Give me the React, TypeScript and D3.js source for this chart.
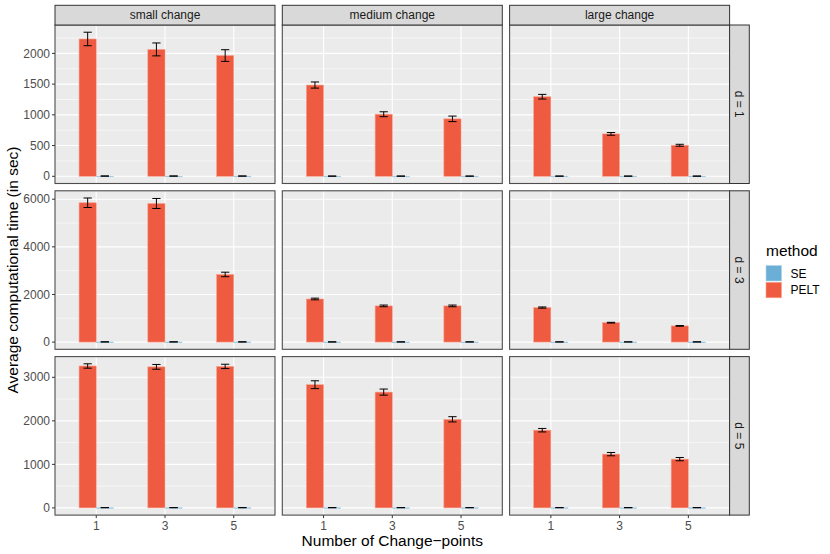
import * as d3 from 'd3';

// facets and categories
const changes = ['small change', 'medium change', 'large change'];
const dims = ['d = 1', 'd = 3', 'd = 5'];
const cps = ['1', '3', '5'];
const methods = ['SE', 'PELT'];

// PELT mean time and standard error, [dim][change][cp]
const peltMean = [
  [[2235, 2065, 1965], [1485, 1010, 935], [1295, 690, 505]],
  [[5850, 5820, 2840], [1810, 1520, 1520], [1450, 815, 680]],
  [[3260, 3240, 3250], [2830, 2660, 2035], [1785, 1235, 1120]],
];
const peltSe = [
  [[110, 105, 95], [50, 40, 45], [38, 22, 16]],
  [[200, 210, 95], [35, 35, 35], [25, 15, 15]],
  [[50, 55, 50], [90, 70, 60], [40, 38, 38]],
];
// SE method times are close to zero
const seMean = [
  [[4, 4, 4], [3, 3, 3], [3, 3, 3]],
  [[9, 9, 9], [8, 8, 8], [8, 8, 8]],
  [[6, 6, 6], [6, 6, 6], [6, 6, 6]],
];
const seSe = [
  [[1, 1, 1], [1, 1, 1], [1, 1, 1]],
  [[2, 2, 2], [2, 2, 2], [2, 2, 2]],
  [[1, 1, 1], [1, 1, 1], [1, 1, 1]],
];

// y breaks per row
const yBreaks = [
  [0, 500, 1000, 1500, 2000],
  [0, 2000, 4000, 6000],
  [0, 1000, 2000, 3000],
];

const colors: { [k: string]: string } = { SE: '#6BAED6', PELT: '#EF5B41' };

const W = 830;
const H = 554;
const left0 = 55;
const top0 = 25;
const panelW = 220;
const panelH = 158.5;
const gap = 7.3;
const stripH = 19.7;
const font = '"Liberation Sans", Arial, Helvetica, sans-serif';
const small = 12;
const big = 15.5;

export default function App() {
  const x = d3.scalePoint<string>().domain(cps).range([0, panelW]).padding(0.6);
  const step = x.step();

  const panels: JSX.Element[] = [];
  dims.forEach((dim, i) => {
    const maxTop = d3.max(
      peltMean[i].flatMap((row, j) => row.map((m, k) => m + peltSe[i][j][k]))
    ) as number;
    const pad = maxTop * 0.05;
    const y = d3.scaleLinear().domain([-pad, maxTop + pad]).range([panelH, 0]);
    const majors = yBreaks[i];
    const bStep = majors[1] - majors[0];
    const minors = d3
      .range(majors[0] - bStep / 2, majors[majors.length - 1] + bStep, bStep)
      .filter(v => v > -pad && v < maxTop + pad);
    const ty = top0 + i * (panelH + gap);

    changes.forEach((ch, j) => {
      const tx = left0 + j * (panelW + gap);
      panels.push(
        <g key={dim + ch} transform={`translate(${tx},${ty})`}>
          <rect width={panelW} height={panelH} fill="#EBEBEB" />
          {minors.map(v => (
            <line key={'mn' + v} x1={0} x2={panelW} y1={y(v)} y2={y(v)} stroke="#fff" strokeWidth={0.55} />
          ))}
          {majors.map(v => (
            <line key={'mj' + v} x1={0} x2={panelW} y1={y(v)} y2={y(v)} stroke="#fff" strokeWidth={1.1} />
          ))}
          {cps.map(c => (
            <line key={'vx' + c} x1={x(c)} x2={x(c)} y1={0} y2={panelH} stroke="#fff" strokeWidth={1.1} />
          ))}
          {cps.map((c, k) => {
            const cx = x(c) as number;
            const pm = peltMean[i][j][k];
            const ps = peltSe[i][j][k];
            const sm = seMean[i][j][k];
            const ss = seSe[i][j][k];
            const pc = cx - step * 0.125;
            const sc = cx + step * 0.125;
            const hw = step * 0.06;
            return (
              <g key={'b' + c}>
                <rect x={cx - step * 0.25} width={step * 0.25} y={y(pm)} height={y(0) - y(pm)}
                  fill={colors.PELT} stroke="#F7A593" strokeWidth={0.6} />
                <rect x={cx} width={step * 0.25} y={y(sm)} height={Math.max(0.8, y(0) - y(sm))}
                  fill={colors.SE} stroke="#B5D5EA" strokeWidth={0.4} />
                <g stroke="#000" strokeWidth={1}>
                  <line x1={pc} x2={pc} y1={y(pm + ps)} y2={y(pm - ps)} />
                  <line x1={pc - hw} x2={pc + hw} y1={y(pm + ps)} y2={y(pm + ps)} />
                  <line x1={pc - hw} x2={pc + hw} y1={y(pm - ps)} y2={y(pm - ps)} />
                  <line x1={sc - hw} x2={sc + hw} y1={y(sm + ss)} y2={y(sm + ss)} />
                  <line x1={sc - hw} x2={sc + hw} y1={y(sm - ss)} y2={y(sm - ss)} />
                </g>
              </g>
            );
          })}
          <rect width={panelW} height={panelH} fill="none" stroke="#4D4D4D" strokeWidth={1.1} />
          {j === 0 &&
            majors.map(v => (
              <g key={'yt' + v}>
                <line x1={-3} x2={0} y1={y(v)} y2={y(v)} stroke="#333" strokeWidth={1} />
                <text x={-5} y={y(v)} dy="0.35em" textAnchor="end" fontSize={small} fill="#4D4D4D" fontFamily={font}>
                  {v}
                </text>
              </g>
            ))}
          {i === dims.length - 1 &&
            cps.map(c => (
              <g key={'xt' + c}>
                <line x1={x(c)} x2={x(c)} y1={panelH} y2={panelH + 3} stroke="#333" strokeWidth={1} />
                <text x={x(c)} y={panelH + 15} textAnchor="middle" fontSize={small} fill="#4D4D4D" fontFamily={font}>
                  {c}
                </text>
              </g>
            ))}
          {i === 0 && (
            <g transform={`translate(0,${-stripH})`}>
              <rect width={panelW} height={stripH} fill="#D9D9D9" stroke="#333" strokeWidth={1} />
              <text x={panelW / 2} y={stripH / 2} dy="0.35em" textAnchor="middle" fontSize={small} fill="#1A1A1A" fontFamily={font}>
                {ch}
              </text>
            </g>
          )}
          {j === changes.length - 1 && (
            <g transform={`translate(${panelW},0)`}>
              <rect width={stripH} height={panelH} fill="#D9D9D9" stroke="#333" strokeWidth={1} />
              <text transform={`translate(${stripH / 2},${panelH / 2}) rotate(90)`} dy="0.35em" textAnchor="middle"
                fontSize={small} fill="#1A1A1A" fontFamily={font}>
                {dim}
              </text>
            </g>
          )}
        </g>
      );
    });
  });

  const gridW = 3 * panelW + 2 * gap;
  const gridH = 3 * panelH + 2 * gap;

  return (
    <svg width={W} height={H} style={{ position: 'absolute', left: 0, top: 0 }} xmlns="http://www.w3.org/2000/svg">
      <rect width={W} height={H} fill="#fff" />
      {panels}
      <text x={left0 + gridW / 2} y={545.5} textAnchor="middle" fontSize={big} fill="#000" fontFamily={font}>
        Number of Change−points
      </text>
      <text transform={`translate(18,${top0 + gridH / 2}) rotate(-90)`} textAnchor="middle" fontSize={big} fill="#000" fontFamily={font}>
        Average computational time (in sec)
      </text>
      <g transform="translate(766,0)">
        <text x={0} y={255.5} fontSize={big} fill="#000" fontFamily={font}>method</text>
        {methods.map((m, k) => (
          <g key={m} transform={`translate(0,${265.5 + k * 16.8})`}>
            <rect width={15.5} height={15.5} fill={colors[m]} stroke={m === 'SE' ? '#B5D5EA' : '#F7A593'} strokeWidth={0.6} />
            <text x={24.5} y={7.9} dy="0.35em" fontSize={small} fill="#000" fontFamily={font}>{m}</text>
          </g>
        ))}
      </g>
    </svg>
  );
}
